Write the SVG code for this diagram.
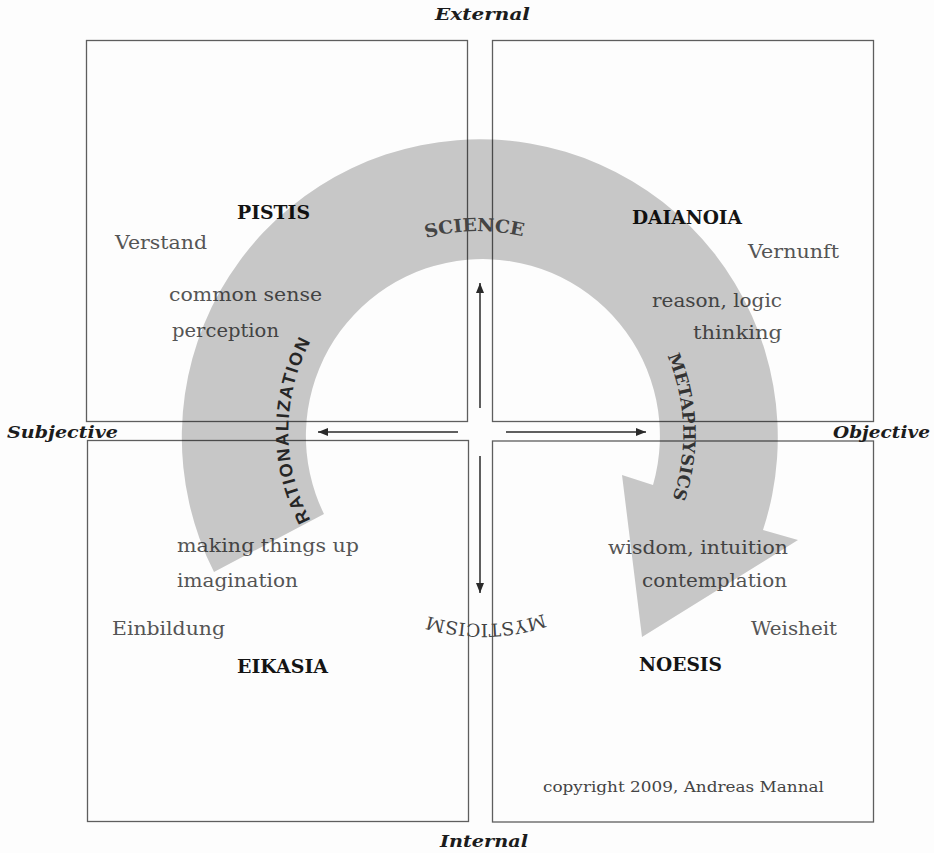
<svg xmlns="http://www.w3.org/2000/svg" width="934" height="853" viewBox="0 0 934 853">
<defs>
<style>
.box{fill:none;stroke:#5e5e5e;stroke-width:1.3}
.t{font-family:"DejaVu Serif","Liberation Serif",serif;font-size:19px;fill:#555}
.b{font-family:"DejaVu Serif","Liberation Serif",serif;font-size:18px;font-weight:bold;fill:#141414}
.ax{font-family:"DejaVu Serif","Liberation Serif",serif;font-size:17px;font-weight:bold;font-style:italic;fill:#1c1c1c}
.arc{font-family:"DejaVu Serif","Liberation Serif",serif;font-size:17px;fill:#333}
.arcs{font-family:"Liberation Sans",Arial,sans-serif;font-size:18px;font-weight:bold;fill:#262626}
.con{stroke:#2a2a2a;stroke-width:1.5;fill:none}
.band{fill:#000;fill-opacity:0.21}
</style>
<marker id="ah" markerUnits="userSpaceOnUse" markerWidth="10" markerHeight="8" viewBox="0 0 10 8" refX="10" refY="4" orient="auto">
<path d="M0,0 L10,4 L0,8 z" fill="#2a2a2a"/>
</marker>
<path id="ringA" d="M381.5,604.3 A199,199 0 1 1 580.5,259.7 A199,199 0 1 1 381.5,604.3"/>
<path id="ringB" d="M385.5,597.4 A191,191 0 1 1 576.5,266.6 A191,191 0 1 1 385.5,597.4"/>
</defs>
<rect x="0" y="0" width="934" height="853" fill="#fdfdfd"/>

<g id="pistis">
<rect class="box" x="86.5" y="40.5" width="381" height="381"/>
<text class="b" x="237" y="219" textLength="73" lengthAdjust="spacingAndGlyphs">PISTIS</text>
<text class="t" x="115" y="249" textLength="92" lengthAdjust="spacingAndGlyphs">Verstand</text>
<text class="t" x="169" y="301" textLength="153" lengthAdjust="spacingAndGlyphs">common sense</text>
<text class="t" x="172" y="337" textLength="107" lengthAdjust="spacingAndGlyphs">perception</text>
</g>

<g id="daianoia">
<rect class="box" x="492.5" y="40.5" width="381" height="381"/>
<text class="b" x="632" y="224" textLength="110" lengthAdjust="spacingAndGlyphs">DAIANOIA</text>
<text class="t" x="748" y="258" textLength="91" lengthAdjust="spacingAndGlyphs">Vernunft</text>
<text class="t" x="652" y="307" textLength="130" lengthAdjust="spacingAndGlyphs">reason, logic</text>
<text class="t" x="693" y="339" textLength="89" lengthAdjust="spacingAndGlyphs">thinking</text>
</g>

<g id="eikasia">
<rect class="box" x="87.5" y="440.5" width="381" height="381"/>
<text class="t" x="177" y="552" textLength="182" lengthAdjust="spacingAndGlyphs">making things up</text>
<text class="t" x="177" y="587" textLength="121" lengthAdjust="spacingAndGlyphs">imagination</text>
<text class="t" x="112" y="635" textLength="113" lengthAdjust="spacingAndGlyphs">Einbildung</text>
<text class="b" x="237" y="673" textLength="91" lengthAdjust="spacingAndGlyphs">EIKASIA</text>
</g>

<g id="noesis">
<rect class="box" x="492.5" y="441" width="381" height="381"/>
<text class="t" x="608" y="554" textLength="180" lengthAdjust="spacingAndGlyphs">wisdom, intuition</text>
<text class="t" x="642" y="587" textLength="145" lengthAdjust="spacingAndGlyphs">contemplation</text>
<text class="t" x="751" y="635" textLength="86" lengthAdjust="spacingAndGlyphs">Weisheit</text>
<text class="b" x="639" y="671" textLength="83" lengthAdjust="spacingAndGlyphs">NOESIS</text>
<text class="t" x="543" y="792" style="font-size:15px;fill:#444" textLength="281" lengthAdjust="spacingAndGlyphs">copyright 2009, Andreas Mannal</text>
</g>

<g id="connectors">
<line class="con" x1="480" y1="408" x2="480" y2="283" marker-end="url(#ah)"/>
<line class="con" x1="480" y1="456" x2="480" y2="593" marker-end="url(#ah)"/>
<line class="con" x1="458" y1="432" x2="318" y2="432" marker-end="url(#ah)"/>
<line class="con" x1="506" y1="432" x2="646" y2="432" marker-end="url(#ah)"/>
</g>

<g id="cycle">
<path class="band" d="M324,514 L214,572 A298,298 0 1 1 763,530 L798,540 L642,637 L622,475 L653,485 A177,177 0 1 0 324,514 Z"/>
<text class="arc" style="font-size:18px;font-weight:bold;fill:#444"><textPath href="#ringA" startOffset="521" text-anchor="middle" textLength="98" lengthAdjust="spacingAndGlyphs">SCIENCE</textPath></text>
<text class="arc" style="font-weight:bold"><textPath href="#ringA" startOffset="837" text-anchor="middle" textLength="146" lengthAdjust="spacingAndGlyphs">METAPHYSICS</textPath></text>
<text class="arcs"><textPath href="#ringB" startOffset="202" text-anchor="middle" textLength="186" lengthAdjust="spacing">RATIONALIZATION</textPath></text>
<text class="arc" style="font-size:18px;fill:#444"><textPath href="#ringB" startOffset="1102" text-anchor="middle" textLength="118" lengthAdjust="spacingAndGlyphs">MYSTICISM</textPath></text>
</g>

<g id="axes">
<text class="ax" x="435" y="20" textLength="95" lengthAdjust="spacingAndGlyphs">External</text>
<text class="ax" x="7" y="438" textLength="111" lengthAdjust="spacingAndGlyphs">Subjective</text>
<text class="ax" x="833" y="438" textLength="97" lengthAdjust="spacingAndGlyphs">Objective</text>
<text class="ax" x="440" y="847" textLength="88" lengthAdjust="spacingAndGlyphs">Internal</text>
</g>
</svg>
